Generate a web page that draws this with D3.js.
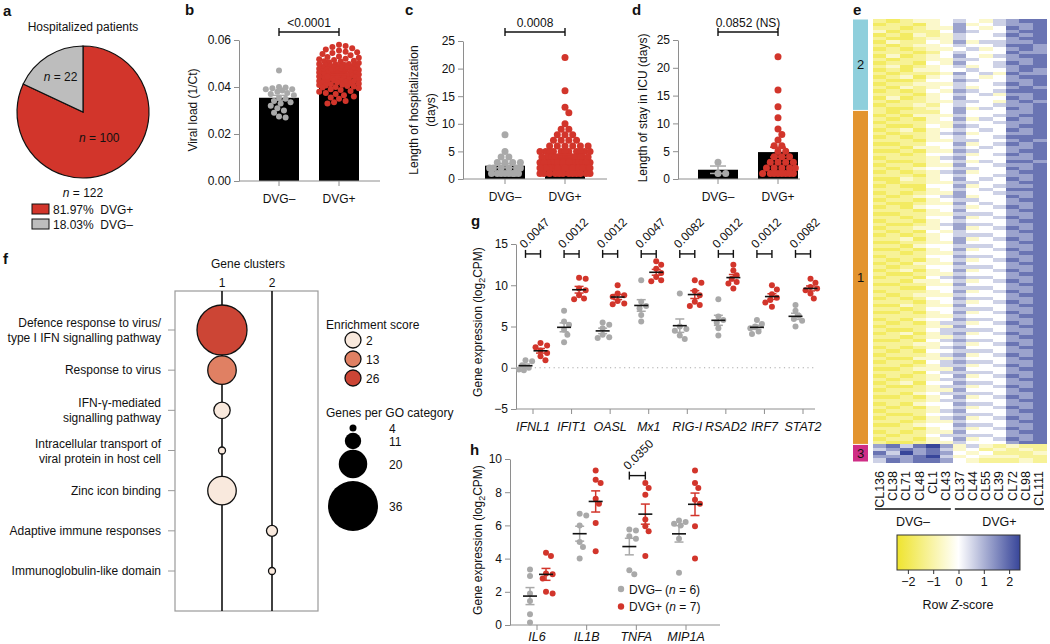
<!DOCTYPE html>
<html><head><meta charset="utf-8">
<script src="https://cdn.jsdelivr.net/npm/d3@7/dist/d3.min.js"></script>
<style>
body{margin:0;background:#fff}
svg{font-family:"Liberation Sans",Arial,Helvetica,sans-serif;font-size:12px}
text{fill:#111}
</style></head>
<body><svg width="1050" height="644"></svg>
<script>
// ---------------- DATA ----------------
const pieGroups = ["DVG+","DVG–"];
const pieCounts = [100, 22];
const piePercents = ["81.97%","18.03%"];
const pieTotal = 122;

const groupNames = ["DVG–","DVG+"];
// b: viral load (1/Ct)
const viralNeg = [0.047,0.040,0.0398,0.0395,0.039,0.039,0.0385,0.038,0.0375,0.037,0.0365,0.0355,0.035,0.034,0.0335,0.033,0.032,0.031,0.030,0.029,0.0275,0.027];
const viralPos = [0.058,0.0575,0.057,0.0565,0.056,0.0555,0.055,0.0548,0.0545,0.054,0.0535,0.053,0.0528,0.0525,0.052,0.0518,0.0515,0.0512,0.051,0.0508,0.0505,0.0502,
 0.0498,0.0496,0.0495,0.0493,0.0492,0.049,0.0488,0.0487,0.0485,0.0483,0.0482,0.048,0.0478,0.0477,0.0475,0.0474,0.0472,0.047,0.0468,0.0467,0.0465,0.0463,0.0462,0.046,0.0458,0.0457,0.0455,0.0453,0.0452,0.045,0.0498,0.0485,0.0472,0.0461,0.0454,
 0.0448,0.0446,0.0445,0.0443,0.0441,0.044,0.0438,0.0436,0.0434,0.0432,0.043,0.0428,0.0426,0.0424,0.0422,0.042,0.0418,0.0416,0.0414,0.0412,0.041,0.0408,0.0406,0.0404,0.0402,0.040,0.0445,0.0425,
 0.0398,0.0395,0.039,0.0387,0.0383,0.038,0.0375,0.037,0.0365,0.036,0.0355,0.035,0.034,0.0335,0.033];
const viralP = "<0.0001";
const viralTicks = [0,0.02,0.04,0.06];
// c: length of hospitalization (days)
const hospNeg = [8,5,4,4,3,3,3,3,2,2,2,2,2,2,1,1,1,1,1,1,1,1];
const hospPos = [22,16,13,12,10,9,9,8,8,8,7,7,7,7,6,6,6,6,6,6,
 5,5,5,5,5,5,5,5,5,5,5,
 4,4,4,4,4,4,4,4,4,4,4,4,4,4,4,
 3,3,3,3,3,3,3,3,3,3,3,3,3,3,3,3,3,3,3,3,3,3,
 2,2,2,2,2,2,2,2,2,2,2,2,2,2,2,2,2,2,2,2,
 1,1,1,1,1,1,1,1,1,1,1,1];
const hospP = "0.0008";
// d: length of stay in ICU (days)
const icuNeg = [1,1,3];
const icuPos = [22,16,13,11,9,8,7,6,6,5,5,4,4,4,3,3,3,3,2,2,2,2,2,1,1,1,1,1,1,1,1];
const icuP = "0.0852 (NS)";
const dayTicks = [0,5,10,15,20,25];

// e: heatmap (codes 0..8 -> row Z-score (code-4)*0.6)
const heatCols = ["CL136","CL38","CL71","CL48","CL1","CL43","CL37","CL44","CL55","CL39","CL72","CL98","CL111"];
const heatColGroups = ["DVG–","DVG–","DVG–","DVG–","DVG–","DVG–","DVG+","DVG+","DVG+","DVG+","DVG+","DVG+","DVG+"];
const heatCluster2 = ["2123345435677","1221346345667","2212336434767","3122246544677","1213235445767","2112335444677","1322436355667","2123345445776","1212334534676","2221245444766","1312346435677","2122335544667","1221436445767","2312345345677","1213344544676","2122236453766","1231345434677","2112446544667","1223335445767","2132345344676","1212436545777","2221345453667","1312346444767","2122335543676","1223245445667","2112346354767"];
const heatCluster1 = ["2122246444667","1213335445677","2121346354767","1222335445667","2112436544677","1231345454767","2122356344667","1212345445777","2221335544676","1122446345767","2213345454667","1121336544677","2212445345767","1222356444667","2112345354776","1221336445667","2123445544767","1212356344677","2221345445667","1132346454767","2122335544677","1211446345667","2221345454777","1212336445667","2123456344767","1221345544677","2112336454667","1213445345767","2221346444677","1122335554667","2212446345767","1221345444677","2112356554667","1223346345767","2121435444677","1212345554667","2231346345767","1122336444677","2213445554667","1121346345767","2212335444677","1222446554667","2121345345767","1213336444677","2122445554667","1231346345767","2112335444677","1221456554667","2213345345767","1122336444677","2211445554667","1222346345767","2123335444677","1212446554667","2221345345767","1132336444677","2212445554667","1121346345767","2222335444677","1213446554667","2121355345767","1222336444677","2112455554667","1231356345767","2212335444677","1121456554667","2223345345767","1212356444677","2121445554667","1222356345767","2113335444677","1221456554667","2212355345767","1123336444677","2221455554667","1212346345767","2122355444677","1231446554667","2112355345767","1222336444677","2213455554667","1121346345767","2222355444677","1213446554667","2121345345767","1222356444677","2112445554667","1221356345767","2212335444677","1123446554667","2221345345767","1212336444677","2122455554667","1221346345767","2112335444677"];
const heatCluster3 = ["6757863532322","5676753423232","7586764342223","6667853433322","5767764322232"];
const heatZTicks = [-2,-1,0,1,2];

// f: GO enrichment
const goTerms = ["Defence response to virus/|type I IFN signalling pathway","Response to virus","IFN-γ-mediated|signalling pathway","Intracellular transport of|viral protein in host cell","Zinc icon binding","Adaptive immune responses","Immunoglobulin-like domain"];
const goCluster = [1,1,1,1,1,2,2];
const goGenes = [36,20,11,4,20,7,4];
const goEnrich = [26,13,2,2,2,2,2];
const enrichLegend = [2,13,26];
const genesLegend = [4,11,20,36];

// g: ISG expression
const gGenes = ["IFNL1","IFIT1","OASL","Mx1","RIG-I","RSAD2","IRF7","STAT2"];
const gNeg = [[0.9,0.8,0.3,0.0,-0.2,-0.3],[6.9,5.6,5.2,4.6,4.0,3.1],[5.5,5.2,4.8,4.0,3.7,3.6],[10.6,8.0,7.5,7.2,6.4,5.6],[9.0,5.0,4.7,4.5,3.9,3.5],[8.3,6.2,5.8,5.5,4.8,3.9],[5.8,5.3,5.0,4.8,4.4,4.1],[7.6,6.9,6.3,5.9,5.7,5.0]];
const gPos = [[3.0,2.7,2.5,2.1,1.8,1.4,0.9],[10.9,10.8,9.6,9.4,8.8,8.4,8.3],[10.0,9.0,8.8,8.6,8.1,7.8,7.7],[12.9,12.5,12.0,11.5,11.0,10.6,10.5],[10.6,10.3,9.3,8.8,8.0,7.6,7.5],[12.5,11.8,11.2,10.8,10.4,10.2,9.6],[10.0,9.5,8.9,8.5,8.2,7.9,7.4],[10.8,10.3,9.8,9.6,9.4,9.0,8.4]];
const gP = ["0.0047","0.0012","0.0012","0.0047","0.0082","0.0012","0.0012","0.0082"];
const gTicks = [-5,0,5,10,15];

// h: cytokine expression
const hGenes = ["IL6","IL1B","TNFA","MIP1A"];
const hNeg = [[3.35,2.95,1.9,1.45,0.65,0.15],[6.7,6.6,6.0,5.0,4.7,4.0],[5.75,5.7,5.35,5.2,3.3,3.05],[6.3,6.2,6.1,6.0,5.2,3.15]];
const hPos = [[4.35,4.15,3.1,3.05,2.8,2.0,1.9],[9.3,8.75,8.55,7.6,7.3,6.15,4.45],[8.55,8.25,7.85,6.35,5.95,5.65,4.15],[9.3,8.55,8.25,7.55,7.3,5.95,4.0]];
const hP = [null,null,"0.0350",null];
const hTicks = [0,2,4,6,8,10];

// ---------------- DRAWING ----------------
const RED = "#d2352b", GRAY = "#a9a9a9", AX = "#8e8e8e";
const svg = d3.select("svg");

function styleAxis(sel){
  sel.attr("font-size",12).attr("font-family",null);
  sel.select(".domain").attr("stroke",AX);
  sel.selectAll(".tick line").attr("stroke",AX);
  sel.selectAll(".tick text").attr("fill","#111");
}
function sem(a){ return d3.deviation(a)/Math.sqrt(a.length); }
function swarm(vals, y, r, maxHalf){
  const order = d3.range(vals.length).sort((a,b)=>vals[b]-vals[a]);
  const placed = [], off = new Array(vals.length);
  const dmin = 2*r*0.95, step = r*0.55;
  const cands = [0];
  for (let k=1; k*step<=maxHalf; k++) cands.push(k*step, -k*step);
  for (const i of order){
    const py = y(vals[i]);
    let chosen = null, best = -1, bestC = 0;
    for (const c of cands){
      let md = Infinity;
      for (const p of placed){
        const dy = p.y-py; if (Math.abs(dy) >= dmin) continue;
        const dx = p.x-c; const dd = Math.sqrt(dx*dx+dy*dy); if (dd<md) md = dd;
      }
      if (md >= dmin){ chosen = c; break; }
      if (md > best){ best = md; bestC = c; }
    }
    if (chosen === null) chosen = bestC;
    placed.push({x:chosen,y:py}); off[i] = chosen;
  }
  return off;
}

// panel letters
[["a",3,16],["b",185,15],["c",405,15],["d",632,15],["e",853,15],["f",3,264],["g",471,226],["h",470,455]]
 .forEach(([t,x,y])=>svg.append("text").attr("x",x).attr("y",y).attr("font-weight","bold").attr("font-size",15).text(t));

// ---- a: pie ----
(function(){
  const cx=83, cy=112, R=66;
  const colors = [RED,"#bdbdbd"];
  svg.append("text").attr("x",cx).attr("y",31).attr("text-anchor","middle").text("Hospitalized patients");
  const g = svg.append("g").attr("transform",`translate(${cx},${cy})`);
  const arcs = d3.pie().sort(null)(pieCounts);
  g.selectAll("path").data(arcs).join("path")
    .attr("d", d3.arc().innerRadius(0).outerRadius(R))
    .attr("fill",(d,i)=>colors[i]).attr("stroke","#111").attr("stroke-width",1.2);
  const lab = [d3.arc().innerRadius(0).outerRadius(R*0.92), d3.arc().innerRadius(0).outerRadius(R*1.27)];
  arcs.forEach((a,i)=>{
    const [x,y] = lab[i].centroid(a);
    const t = g.append("text").attr("x",x).attr("y",y+4).attr("text-anchor","middle");
    t.append("tspan").attr("font-style","italic").text("n");
    t.append("tspan").text(" = "+pieCounts[i]);
  });
  const t = svg.append("text").attr("x",cx).attr("y",197).attr("text-anchor","middle");
  t.append("tspan").attr("font-style","italic").text("n"); t.append("tspan").text(" = "+pieTotal);
  pieGroups.forEach((gname,i)=>{
    const y = 204 + i*15;
    svg.append("rect").attr("x",32).attr("y",y).attr("width",17).attr("height",10).attr("fill",colors[i]).attr("stroke","#111").attr("stroke-width",1);
    svg.append("text").attr("x",53).attr("y",y+9.5).text(piePercents[i]+"\u00a0\u00a0"+gname);
  });
})();

// ---- b, c, d: bar + dot panels ----
function barPanel(o){
  const g = svg.append("g");
  const y = d3.scaleLinear().domain(o.domain).range(o.yRange);
  const x = d3.scalePoint().domain(groupNames).range(o.xRange);
  const data = [o.neg,o.pos], cols = [GRAY,RED];
  const means = data.map(d=>d3.mean(d));
  g.selectAll("rect.bar").data(groupNames).join("rect")
    .attr("x",d=>x(d)-20).attr("width",40)
    .attr("y",(d,i)=>y(means[i])).attr("height",(d,i)=>y(0)-y(means[i])).attr("fill","#000");
  data.forEach((vals,k)=>{
    const off = swarm(vals,y,o.r,o.half[k]);
    g.append("g").selectAll("circle").data(vals).join("circle")
      .attr("cx",(v,i)=>x(groupNames[k])+off[i]).attr("cy",v=>y(v)).attr("r",o.r).attr("fill",cols[k]);
    const m = means[k], s = sem(vals), cx = x(groupNames[k]);
    const eb = g.append("g").attr("stroke",cols[k]).attr("stroke-width",1.5);
    eb.append("line").attr("x1",cx).attr("x2",cx).attr("y1",y(m-s)).attr("y2",y(m+s));
    [m-s,m+s].forEach(v=>eb.append("line").attr("x1",cx-8).attr("x2",cx+8).attr("y1",y(v)).attr("y2",y(v)));
  });
  const ya = g.append("g").attr("transform",`translate(${o.axisX},0)`)
    .call(d3.axisLeft(y).tickValues(o.ticks).tickFormat(o.fmt).tickSize(5).tickSizeOuter(0).tickPadding(3));
  styleAxis(ya);
  g.append("line").attr("x1",o.axisX).attr("x2",o.axisEnd).attr("y1",y(0)).attr("y2",y(0)).attr("stroke",AX);
  groupNames.forEach(n=>{
    g.append("line").attr("x1",x(n)).attr("x2",x(n)).attr("y1",y(0)).attr("y2",y(0)+5).attr("stroke",AX);
    g.append("text").attr("x",x(n)).attr("y",y(0)+22).attr("text-anchor","middle").text(n);
  });
  const by = 32, x1 = x(groupNames[0]), x2 = x(groupNames[1]);
  const br = g.append("g").attr("stroke","#111").attr("stroke-width",1.4);
  br.append("line").attr("x1",x1).attr("x2",x2).attr("y1",by).attr("y2",by);
  [x1,x2].forEach(xx=>br.append("line").attr("x1",xx).attr("x2",xx).attr("y1",by-4).attr("y2",by+4));
  g.append("text").attr("x",(x1+x2)/2).attr("y",by-5).attr("text-anchor","middle").text(o.p);
  o.ylabel.forEach((l,i)=>g.append("text").attr("transform",`translate(${o.ylabelX[i]},${o.ylabelY}) rotate(-90)`)
    .attr("text-anchor","middle").attr("dominant-baseline","central").text(l));
}
barPanel({neg:viralNeg,pos:viralPos,domain:[0,0.06],yRange:[181,40],xRange:[279,339],axisX:239,axisEnd:380,
  ticks:viralTicks,fmt:d3.format(".2f"),r:3,half:[18,21],p:viralP,ylabel:["Viral load (1/Ct)"],ylabelX:[193],ylabelY:110});
barPanel({neg:hospNeg,pos:hospPos,domain:[0,25],yRange:[179,41],xRange:[505,565],axisX:463,axisEnd:607,
  ticks:dayTicks,fmt:d3.format("d"),r:3.5,half:[17,26],p:hospP,ylabel:["Length of hospitalization","(days)"],ylabelX:[414,431],ylabelY:110});
barPanel({neg:icuNeg,pos:icuPos,domain:[0,25],yRange:[179,40],xRange:[718,778],axisX:678,axisEnd:800,
  ticks:dayTicks,fmt:d3.format("d"),r:3.5,half:[12,18],p:icuP,ylabel:["Length of stay in ICU (days)"],ylabelX:[643],ylabelY:108});

// ---- e: heatmap ----
(function(){
  const rows = [...heatCluster2.map(s=>({c:"2",s})), ...heatCluster1.map(s=>({c:"1",s})), ...heatCluster3.map(s=>({c:"3",s}))];
  const hy = d3.scaleBand().domain(d3.range(rows.length)).range([19,462]);
  const hx = d3.scaleBand().domain(heatCols).range([873,1046]);
  const zc = d3.scaleLinear().domain([-2.4,0,2.4]).range(["#efe42f","#ffffff","#38469a"]).clamp(true);
  const code2z = ch => (+ch-4)*0.6;
  const g = svg.append("g").attr("shape-rendering","crispEdges");
  rows.forEach((r,i)=>{
    heatCols.forEach((c,j)=>{
      g.append("rect").attr("x",hx(c)).attr("y",hy(i)).attr("width",hx.bandwidth()+0.5).attr("height",hy.bandwidth()+0.5)
        .attr("fill",zc(code2z(r.s[j])));
    });
  });
  const clColors = {"2":"#8fcfdc","1":"#e3942f","3":"#cf2d86"};
  ["2","1","3"].forEach(c=>{
    const idx = rows.map((r,i)=>r.c===c?i:-1).filter(i=>i>=0);
    const y0 = hy(idx[0]), y1 = hy(idx[idx.length-1])+hy.bandwidth();
    svg.append("rect").attr("x",853).attr("y",y0+0.5).attr("width",15).attr("height",y1-y0-1).attr("fill",clColors[c]);
    svg.append("text").attr("x",860.5).attr("y",(y0+y1)/2+4.5).attr("text-anchor","middle").attr("font-size",13).text(c);
  });
  heatCols.forEach(c=>{
    svg.append("text").attr("transform",`translate(${hx(c)+hx.bandwidth()/2},471) rotate(-90)`)
      .attr("text-anchor","end").attr("dominant-baseline","central").attr("font-size",12.5).text(c);
  });
  groupNames.forEach(gn=>{
    const cs = heatCols.filter((c,j)=>heatColGroups[j]===gn);
    const x0 = hx(cs[0])+2, x1 = hx(cs[cs.length-1])+hx.bandwidth()-2;
    svg.append("line").attr("x1",x0).attr("x2",x1).attr("y1",509).attr("y2",509).attr("stroke","#111").attr("stroke-width",1.4);
    svg.append("text").attr("x",(x0+x1)/2).attr("y",526).attr("text-anchor","middle").attr("font-size",12.5).text(gn);
  });
  // legend
  const lx = d3.scaleLinear().domain([-2.43,2.43]).range([897,1020]);
  const grad = svg.append("defs").append("linearGradient").attr("id","zgrad");
  d3.range(0,1.0001,0.1).forEach(t=>grad.append("stop").attr("offset",t).attr("stop-color",zc(-2.43+t*4.86)));
  svg.append("rect").attr("x",897).attr("y",535).attr("width",123).attr("height",35).attr("fill","url(#zgrad)").attr("stroke","#333");
  const la = svg.append("g").attr("transform","translate(0,570)").call(d3.axisBottom(lx).tickValues(heatZTicks).tickFormat(d3.format("d")).tickSize(4).tickSizeOuter(0).tickPadding(3));
  styleAxis(la); la.select(".domain").remove(); la.selectAll(".tick line").attr("stroke","#333");
  la.selectAll(".tick text").attr("font-size",12.5);
  const zt = svg.append("text").attr("x",958).attr("y",609).attr("text-anchor","middle").attr("font-size",12.5);
  zt.append("tspan").text("Row "); zt.append("tspan").attr("font-style","italic").text("Z"); zt.append("tspan").text("-score");
})();

// ---- f: GO bubble plot ----
(function(){
  const fy = d3.scalePoint().domain(goTerms).range([330,571]);
  const fx = d3.scalePoint().domain([1,2]).range([222,272]);
  const size = d3.scaleLinear().domain([4,36]).range([3.5,25]);
  const col = d3.scaleLinear().domain([2,13,26]).range(["#f9e9dd","#e08063","#cc4535"]);
  svg.append("rect").attr("x",175).attr("y",291).attr("width",143).attr("height",320).attr("fill","none").attr("stroke","#9a9a9a").attr("stroke-width",1.2);
  svg.append("text").attr("x",248).attr("y",268).attr("text-anchor","middle").text("Gene clusters");
  [1,2].forEach(c=>{
    svg.append("text").attr("x",fx(c)).attr("y",287).attr("text-anchor","middle").text(c);
    svg.append("line").attr("x1",fx(c)).attr("x2",fx(c)).attr("y1",291).attr("y2",611).attr("stroke","#111").attr("stroke-width",1.6);
  });
  goTerms.forEach((t,i)=>{
    const y = fy(t);
    svg.append("line").attr("x1",168).attr("x2",175).attr("y1",y).attr("y2",y).attr("stroke","#9a9a9a");
    const lines = t.split("|");
    lines.forEach((l,k)=>{
      const dy = lines.length===1 ? 4 : (k===0 ? -3 : 12);
      svg.append("text").attr("x",161).attr("y",y+dy).attr("text-anchor","end").text(l);
    });
  });
  svg.append("g").selectAll("circle").data(goTerms).join("circle")
    .attr("cx",(t,i)=>fx(goCluster[i])).attr("cy",t=>fy(t)).attr("r",(t,i)=>size(goGenes[i]))
    .attr("fill",(t,i)=>col(goEnrich[i])).attr("stroke","#111").attr("stroke-width",1.3);
  // legends
  svg.append("text").attr("x",326).attr("y",329).text("Enrichment score");
  enrichLegend.forEach((v,i)=>{
    const y = 340 + i*19;
    svg.append("circle").attr("cx",353).attr("cy",y).attr("r",8).attr("fill",col(v)).attr("stroke","#111").attr("stroke-width",1.3);
    svg.append("text").attr("x",366).attr("y",y+4.5).text(v);
  });
  svg.append("text").attr("x",326).attr("y",417).text("Genes per GO category");
  const gy = [428,441,464,506];
  genesLegend.forEach((v,i)=>{
    svg.append("circle").attr("cx",353).attr("cy",gy[i]).attr("r",size(v)).attr("fill","#000");
    svg.append("text").attr("x",389).attr("y",gy[i]+4.5).text(v);
  });
})();

// ---- g & h: dot plots ----
function dotPanel(o){
  const g = svg.append("g");
  const x = d3.scalePoint().domain(o.genes).range(o.xRange);
  const y = d3.scaleLinear().domain(o.domain).range(o.yRange);
  const ya = g.append("g").attr("transform",`translate(${o.axisX},0)`)
    .call(d3.axisLeft(y).tickValues(o.ticks).tickSize(5).tickSizeOuter(0).tickPadding(3));
  styleAxis(ya);
  const y0 = y(o.domain[0]);
  g.append("line").attr("x1",o.axisX).attr("x2",o.axisEnd).attr("y1",y0).attr("y2",y0).attr("stroke",AX);
  if (o.zeroLine) g.append("line").attr("x1",o.axisX).attr("x2",o.axisEnd).attr("y1",y(0)).attr("y2",y(0))
      .attr("stroke","#aaa").attr("stroke-dasharray","1.2,3.5");
  o.genes.forEach((gn,i)=>{
    const cx = x(gn);
    g.append("line").attr("x1",cx).attr("x2",cx).attr("y1",y0).attr("y2",y0+5).attr("stroke",AX);
    g.append("text").attr("x",cx).attr("y",y0+o.labDy).attr("text-anchor","middle").attr("font-style","italic").attr("font-size",12.5).text(gn);
    [[o.neg[i],GRAY,o.offs[0]],[o.pos[i],RED,o.offs[1]]].forEach(([vals,c,dx])=>{
      const gx = cx+dx;
      const off = swarm(vals,y,3,8);
      g.append("g").selectAll("circle").data(vals).join("circle")
        .attr("cx",(v,k)=>gx+off[k]).attr("cy",v=>y(v)).attr("r",3).attr("fill",c);
      const m = d3.mean(vals), s = sem(vals);
      const eb = g.append("g").attr("stroke",c).attr("stroke-width",1.5);
      eb.append("line").attr("x1",gx).attr("x2",gx).attr("y1",y(m-s)).attr("y2",y(m+s));
      [m-s,m+s].forEach(v=>eb.append("line").attr("x1",gx-4.5).attr("x2",gx+4.5).attr("y1",y(v)).attr("y2",y(v)));
      g.append("line").attr("x1",gx-7).attr("x2",gx+7).attr("y1",y(m)).attr("y2",y(m)).attr("stroke","#111").attr("stroke-width",1.6);
    });
    if (o.p[i]){
      const by = y(o.bracketV), xa = cx+o.offs[0], xb = cx+o.offs[1];
      const br = g.append("g").attr("stroke","#111").attr("stroke-width",1.4);
      br.append("line").attr("x1",xa).attr("x2",xb).attr("y1",by).attr("y2",by);
      [xa,xb].forEach(xx=>br.append("line").attr("x1",xx).attr("x2",xx).attr("y1",by-4).attr("y2",by+4));
      g.append("text").attr("transform",`translate(${xa-1},${by-5}) rotate(-45)`).text(o.p[i]);
    }
  });
  const yl = g.append("text").attr("transform",`translate(478,${o.ylabelY}) rotate(-90)`).attr("text-anchor","middle").attr("dominant-baseline","central");
  yl.append("tspan").text("Gene expression (log");
  yl.append("tspan").attr("font-size",9).attr("dy",4).text("2");
  yl.append("tspan").attr("dy",-4).text("CPM)");
}
dotPanel({genes:gGenes,neg:gNeg,pos:gPos,p:gP,xRange:[533,803],domain:[-5,15],yRange:[409,244],axisX:516,axisEnd:815,
  ticks:gTicks,offs:[-7.5,7.5],bracketV:13.8,zeroLine:true,labDy:22,ylabelY:322});
dotPanel({genes:hGenes,neg:hNeg,pos:hPos,p:hP,xRange:[537,686],domain:[0,10],yRange:[625,459],axisX:510,axisEnd:720,
  ticks:hTicks,offs:[-7,9],bracketV:9.0,zeroLine:false,labDy:16,ylabelY:540});

// h legend
[[GRAY,"DVG– (",6],[RED,"DVG+ (",7]].forEach(([c,l,n],i)=>{
  const y = 589 + i*17.5;
  svg.append("circle").attr("cx",621).attr("cy",y).attr("r",3.2).attr("fill",c);
  const t = svg.append("text").attr("x",629).attr("y",y+4.5);
  t.append("tspan").text(l); t.append("tspan").attr("font-style","italic").text("n"); t.append("tspan").text(" = "+n+")");
});
</script></body></html>
